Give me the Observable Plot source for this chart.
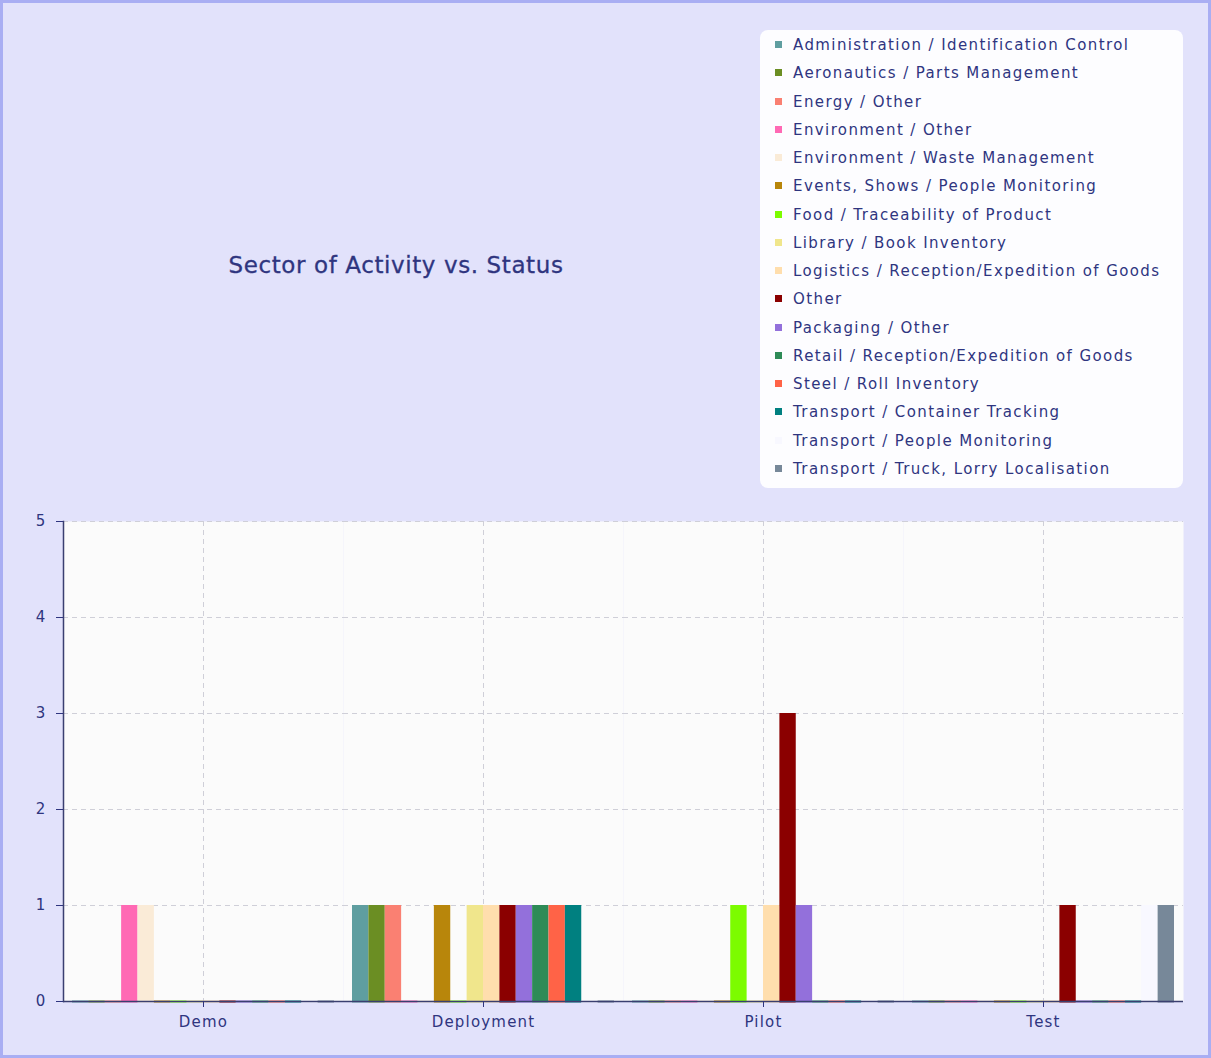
<!DOCTYPE html>
<html>
<head>
<meta charset="utf-8">
<script src="https://cdn.jsdelivr.net/npm/d3@7"></script>
<script src="https://cdn.jsdelivr.net/npm/@observablehq/plot@0.6"></script>
<style>
  html, body { margin: 0; padding: 0; }
  body { width: 1211px; height: 1058px; overflow: hidden; font-family: "DejaVu Sans", Verdana, sans-serif; }
  #page { position: absolute; left: 0; top: 0; width: 1205px; height: 1052px; background: #e2e2fb; border: 3px solid #a9aef3; }
  #title { position: absolute; left: 0; width: 786px; top: 249px; text-align: center; font-size: 23px; color: #2f357f; letter-spacing: 0.6px; -webkit-text-stroke: 0.3px #2f357f; }
  #legend { position: absolute; left: 757px; top: 27px; width: 423px; height: 458px; background: #fdfdff; border-radius: 8px; box-sizing: border-box; padding-top: 1px; }
  .item { height: 28.27px; line-height: 28.27px; font-size: 15px; letter-spacing: 1.4px; color: #2f357f; white-space: nowrap; padding-left: 15px; }
  .sw { display: inline-block; width: 7px; height: 7px; margin-right: 11px; vertical-align: 2px; }
  #chart { position: absolute; left: 0; top: 502px; }
  #chart svg text { letter-spacing: 1.2px; }
</style>
</head>
<body>
<div id="page">
  <div id="title">Sector of Activity vs. Status</div>
  <div id="legend"></div>
  <div id="chart"></div>
</div>
<script>
const statuses = ["Demo", "Deployment", "Pilot", "Test"];
const sectors = [
  "Administration / Identification Control",
  "Aeronautics / Parts Management",
  "Energy / Other",
  "Environment / Other",
  "Environment / Waste Management",
  "Events, Shows / People Monitoring",
  "Food / Traceability of Product",
  "Library / Book Inventory",
  "Logistics / Reception/Expedition of Goods",
  "Other",
  "Packaging / Other",
  "Retail / Reception/Expedition of Goods",
  "Steel / Roll Inventory",
  "Transport / Container Tracking",
  "Transport / People Monitoring",
  "Transport / Truck, Lorry Localisation"
];
const colors = [
  "#5F9EA0", "#6B8E23", "#FA8072", "#FF69B4", "#FAEBD7", "#B8860B", "#7CFC00", "#F0E68C",
  "#FFDEAD", "#8B0000", "#9370DB", "#2E8B57", "#FF6347", "#008080", "#F8F8FF", "#778899"
];
const demoValues       = [0, 0, 0, 1, 1, 0, 0, 0, 0, 0, 0, 0, 0, 0, 0, 0];
const deploymentValues = [1, 1, 1, 0, 0, 1, 0, 1, 1, 1, 1, 1, 1, 1, 0, 0];
const pilotValues      = [0, 0, 0, 0, 0, 0, 1, 0, 1, 3, 1, 0, 0, 0, 0, 0];
const testValues       = [0, 0, 0, 0, 0, 0, 0, 0, 0, 1, 0, 0, 0, 0, 1, 1];
const yTicks = [0, 1, 2, 3, 4, 5];

const series = [demoValues, deploymentValues, pilotValues, testValues];
const data = [];
statuses.forEach((s, i) => sectors.forEach((sec, j) => data.push({status: s, sector: sec, value: series[i][j]})));

// legend
const legend = document.getElementById("legend");
sectors.forEach((sec, j) => {
  const d = document.createElement("div");
  d.className = "item";
  const sw = document.createElement("span");
  sw.className = "sw";
  sw.style.background = colors[j];
  d.appendChild(sw);
  d.appendChild(document.createTextNode(sec));
  legend.appendChild(d);
});

const ink = "#2f357f";
const chart = Plot.plot({
  width: 1205,
  height: 536,
  marginLeft: 60,
  marginRight: 25,
  marginTop: 16,
  marginBottom: 40,
  style: { background: "transparent", fontFamily: "DejaVu Sans, Verdana, sans-serif", fontSize: "15px", color: ink },
  fx: { domain: statuses, padding: 0, label: null, round: false },
  x: { domain: sectors, paddingInner: 0, paddingOuter: 0.55, axis: null, round: false },
  y: { domain: [0, 5], label: null },
  color: { domain: sectors, range: colors },
  marks: [
    Plot.frame({ fill: "#fbfbfb", stroke: null }),
    Plot.gridY(yTicks, { stroke: "#cfcfd8", strokeOpacity: 1, strokeDasharray: "5,4" }),
    Plot.gridFx({ stroke: "#cfcfd8", strokeOpacity: 1, strokeDasharray: "5,4" }),
    Plot.barY(data, { fx: "status", x: "sector", y: "value", fill: "sector" }),
    Plot.tickY(data, { fx: "status", x: "sector", y: 0, stroke: "sector", strokeWidth: 2 }),
    Plot.ruleY([0], { stroke: "#3a3f70", strokeWidth: 1.5 }),
    Plot.frame({ anchor: "left", facetAnchor: "left", stroke: "#3a3f70", strokeWidth: 1.5 }),
    Plot.axisY(yTicks, { tickSize: 7, tickPadding: 10, stroke: ink, fill: ink, fontSize: 15, tickFormat: d3.format("d") }),
    Plot.axisFx({ anchor: "bottom", tickSize: 6, tickPadding: 9, stroke: ink, fill: ink, fontSize: 15, label: null })
  ]
});
document.getElementById("chart").appendChild(chart);
</script>
</body>
</html>
